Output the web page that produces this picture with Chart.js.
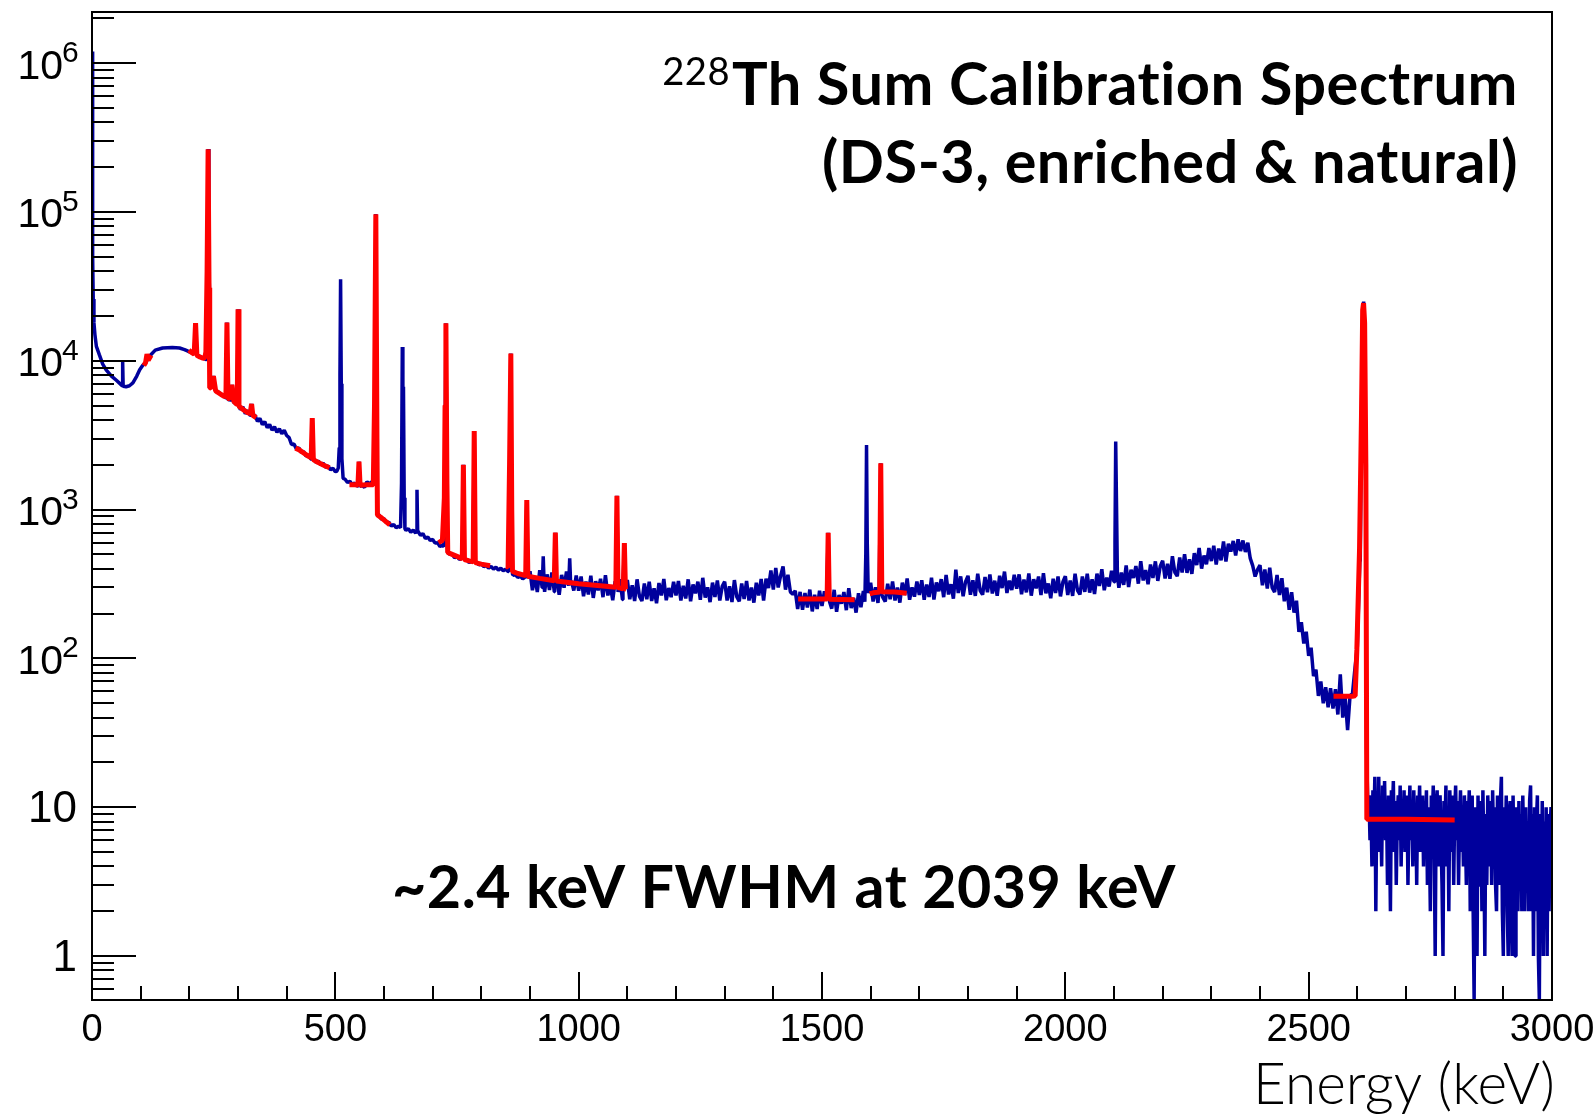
<!DOCTYPE html>
<html><head><meta charset="utf-8">
<style>html,body{margin:0;padding:0;background:#fff;}canvas{display:block;}</style>
<script src="https://cdn.jsdelivr.net/npm/chart.js@4.4.1/dist/chart.umd.min.js"></script>
</head><body>
<canvas id="c" width="1596" height="1117"></canvas>
<script>
// ---------------- DATA ----------------
// Blue measured spectrum, low-energy part (keV, counts)
const blueLowE = [0.5, 1, 1.6, 2.5, 4, 6, 9, 15, 22, 29, 40, 50, 58, 62, 63, 64, 70, 77, 84, 92, 98, 104, 108, 112.5, 116, 120, 130, 145, 165, 180, 190, 195];
const blueLowC = [1200000, 200000, 50000, 26000, 18000, 15000, 12500, 11000, 9500, 8700, 7900, 7400, 7000, 6800, 9900, 6750, 6700, 6800, 7100, 7900, 8700, 9300, 9600, 10000, 10400, 10900, 11800, 12200, 12300, 12200, 11900, 11700];

// Blue continuum, blocks of 20 bins spaced 5 keV, [block start keV, counts]
const contStep = 5;
const contBlocks = [
 [200, [11500,11350,11150,10950,10750,10550,10350,10200,6900,6700,6500,6300,6150,5950,5800,5650,5500,5450,5300,5150]],
 [300, [5150,4700,4900,4420,4640,4300,4300,4300,3920,4100,3730,3900,3560,3730,3420,3600,3310,3500,3230,3420]],
 [400, [3150,3050,2740,2760,2560,2600,2420,2460,2290,2330,2180,2220,2080,2120,2000,2050,1920,1970,1850,1900]],
 [500, [1800,1790,2500,1620,1600,1520,1550,1470,1510,1440,1430,1460,1410,1540,1490,1540,1490,950,920,860]],
 [600, [870,815,825,775,795,755,775,740,765,725,745,705,730,695,715,670,690,640,655,620]],
 [700, [630,595,600,565,575,550,530,500,505,475,485,462,472,450,462,440,452,432,445,425]],
 [800, [432,414,421,404,415,398,410,392,404,388,398,384,386,362,365,350,358,342,352,336]],
 [900, [385,287,356,279,391,300,280,367,288,378,280,340,268,364,299,384,275,332,286,361]],
 [1000,[285,355,262,328,269,360,255,330,287,343,258,362,265,309,246,330,265,340,249,310]],
 [1100,[336,250,310,243,340,261,243,319,250,328,243,296,235,321,265,342,246,297,258,327]],
 [1200,[265,331,245,308,253,340,242,314,274,328,248,348,256,300,239,323,259,334,245,305]],
 [1300,[328,245,305,239,336,259,242,319,251,331,245,299,237,322,265,342,245,343,297,390]],
 [1400,[290,405,300,360,415,290,365,280,270,285,215,280,212,275,220,290,207,268,215,285]],
 [1500,[225,282,208,262,216,289,206,267,233,279,211,296,218,255,203,274,221,284,208,260]],
 [1600,[322,241,301,236,333,257,241,317,250,329,245,299,237,323,267,344,248,300,260,329]],
 [1700,[267,335,248,314,259,348,249,324,283,341,258,364,269,315,252,395,275,356,262,328]],
 [1800,[359,268,335,263,371,286,268,353,278,367,273,333,264,359,297,383,275,333,288,365]],
 [1900,[294,367,270,339,278,372,264,341,296,355,267,374,274,319,254,343,275,355,261,326]],
 [2000,[357,267,334,263,371,287,269,355,280,371,277,340,271,371,307,398,287,349,304,388]],
 [2100,[317,399,298,377,312,421,302,395,347,418,318,450,334,392,315,428,347,449,332,416]],
 [2200,[454,344,432,343,486,379,357,476,378,502,376,463,370,510,424,553,401,491,430,552]],
 [2300,[451,572,428,547,456,610,448,590,523,616,492,632,527,620,519,599,470,420,355,395]],
 [2400,[423,310,396,295,407,299,279,364,267,346,242,299,212,278,203,244,151,175,126,151]],
 [2500,[104,118,76,84,56,70,50,64,47,63,46,62,42,78,40,55,33,56,58,85]],
 [2600,[120,450]]
];

// Blue peaks (keV, counts) replacing the continuum bins they span
const bluePeaks = [
 [[210,11100],[212.8,17900],[215.5,10900]],
 [[235.5,10250],[237,40000],[238.6,265000],[240.2,40000],[241.3,31000],[242.5,6900]],
 [[246.5,6650],[249.5,7900],[253,6350]],
 [[275.5,5650],[277.3,18100],[279,5550]],
 [[286,5450],[288.2,6900],[290.5,5300]],
 [[298.5,5050],[300.1,22200],[301.7,4950]],
 [[326,4380],[327.9,5130],[330,4300]],
 [[450.5,2220],[452.6,4120],[454.5,2170]],
 [[503,1810],[506,1900],[508,2600],[509.5,8000],[510.8,35300],[512.2,7000],[513.5,2200],[516,1620]],
 [[547,1450],[548.6,2100],[550.5,1430]],
 [[579,1490],[581,5000],[583.2,97000],[585,2000],[586.5,940]],
 [[634,757],[636,1500],[637.6,12400],[638.8,3000],[640,6700],[641.5,1200],[643,745]],
 [[666.5,712],[667.8,1360],[669.2,700]],
 [[723,565],[725,1500],[727.2,17900],[729,2000],[730.5,520]],
 [[761,465],[763.1,2000],[765,460]],
 [[783,445],[785.4,3380],[787.5,440]],
 [[856,392],[858,1500],[860.5,11200],[862,1200],[864,370]],
 [[891,346],[893.4,1160],[895.5,346]],
 [[925.5,330],[927.2,485],[929,320]],
 [[950.5,316],[952.1,700],[954,328]],
 [[979.5,308],[981.6,470],[983.5,320]],
 [[1076,300],[1078.6,1240],[1081,280]],
 [[1091,285],[1093.9,596],[1096,298]],
 [[1509.5,250],[1512.7,698],[1515.5,240]],
 [[1588,240],[1590,500],[1591.5,2720],[1593,600],[1595,275]],
 [[1617.5,300],[1620.7,2050],[1623,268]],
 [[2100,328],[2102,600],[2103.5,2870],[2105,1200],[2107,360]],
 [[2606,450],[2608.5,4200],[2611,22000],[2613,25000],[2615.5,15000],[2617.5,800],[2619,25]]
];

// Blue high-energy tail: 2 keV bins from 2620 keV
const tailStart = 2620, tailStep = 2;
const blueTail = [17,9,12,6,10,4,13,8,16,2,11,7,16,5,9,4,14,8,15,6,
 10,3,12,7,2,13,9,15,5,11,3,8,12,6,14,4,10,7,13,5,
 9,12,3,8,14,6,11,4,13,7,10,3,12,8,14,5,9,12,4,11,
 7,13,3,10,6,2,12,8,14,5,1,10,13,4,9,12,6,3,1,11,
 7,14,4,10,2,13,8,5,12,3,9,14,6,11,3,8,13,5,10,4,
 12,7,3,11,8,13,2,9,12,2,0,10,6,1,12,3,8,11,2,13,
 5,1,9,3,12,7,4,11,3,13,6,10,3,2,12,8,3,11,16,2,
 1,10,5,12,2,1,9,11,2,1,12,4,1,10,7,2,11,3,9,2,
 12,5,2,10,3,8,2,11,14,2,9,1,10,2,8,12,1,0,9,2,
 11,1,8,2,10,1,9,2,7,10,9];

// Red fit segments (keV, counts)
const fit111  = [[106.5,9300],[110,9700],[113,11100],[115.5,10100],[121.5,10900]];
const fit238  = [[199,11800],[205,11350],[210,11100],[212.8,17900],[215.5,10900],[222,10600],[228,10400],[232,10500],[234,11500],[236.5,40000],[238.6,264000],[240.5,30000],[241.4,31000],[242.3,6600],[245,6550],[249.5,7900],[254,6300],[258,6150],[265,5950],[270,5800],[275.2,5750],[277.3,18100],[279.5,5600],[283,5550],[287.5,6890],[291.5,5350],[296,5150],[298.5,5100],[300.1,22200],[302,4950],[310,4720],[320,4480],[325,4420],[327.9,5130],[330.5,4300],[337.5,4150]];
const fit453  = [[418,2590],[425,2530],[435,2400],[445,2280],[450.4,2230],[452.6,4120],[454.8,2170],[465,2070],[475,1995],[488,1910]];
const fit583  = [[529,1470],[540,1470],[546.5,1465],[548.6,2100],[550.8,1460],[565,1470],[578,1470],[580.5,5000],[583.2,96600],[585.5,3000],[586.5,920],[595,880],[612,790]];
const fit727  = [[712,600],[720,620],[724,1200],[725.5,5000],[727.2,17900],[729.3,1500],[731,515],[740,500],[750,485],[760.9,468],[763.1,2000],[765.3,462],[775,452],[783.2,446],[785.4,3380],[787.6,440],[800,430],[818,420]];
const fit860  = [[851,415],[855,410],[858,2000],[860.6,11200],[862.5,1000],[864,384],[875,372],[891.2,360],[893.4,1160],[895.6,357],[920,345],[949.9,333],[952.1,700],[954.3,331],[1000,318],[1050,307],[1076.4,301],[1078.6,1240],[1080.8,299],[1091.7,294],[1093.9,596],[1096.1,292],[1098,290]];
const fit1512 = [[1451,251],[1500,251],[1510.5,251],[1512.7,698],[1514.9,250],[1567,248]];
const fit1620 = [[1598,272],[1605,276],[1618.5,279],[1620.7,2050],[1622.9,280],[1650,279],[1674,274]];
const fit2614 = [[2551,55.6],[2590,55.6],[2595.5,56],[2599,114],[2604.5,537],[2608.5,4220],[2611,22000],[2612.8,24400],[2615,18000],[2617.5,2000],[2619.5,8.3],[2700,8.3],[2800,8.2]];
const fitSegments = [fit111, fit238, fit453, fit583, fit727, fit860, fit1512, fit1620, fit2614];

// Axis ticks and labels
const xMin = 0, xMax = 3000, yMin = 0.506, yMax = 2.21e6;
const xMajorTicks = [0, 500, 1000, 1500, 2000, 2500, 3000];
const xMajorLabels = ['0', '500', '1000', '1500', '2000', '2500', '3000'];
const yMajorTicks = [1, 10, 100, 1000, 10000, 100000, 1000000];
const yLabelBase = ['1', '10', '10', '10', '10', '10', '10'];
const yLabelExp  = ['', '', '2', '3', '4', '5', '6'];

// ---------------- build blue series ----------------
const bluePts = [];
blueLowE.forEach((e, i) => bluePts.push({x: e, y: blueLowC[i]}));
const ranges = bluePeaks.map(g => [g[0][0], g[g.length - 1][0]]);
contBlocks.forEach(([start, vals]) => vals.forEach((c, i) => {
  const e = start + i * contStep;
  if (!ranges.some(r => e >= r[0] && e <= r[1])) bluePts.push({x: e, y: c});
}));
bluePeaks.forEach(g => g.forEach(p => bluePts.push({x: p[0], y: p[1]})));
blueTail.forEach((c, i) => bluePts.push({x: tailStart + i * tailStep, y: c}));
bluePts.sort((a, b) => a.x - b.x);

// ---------------- ROOT-like axes and texts ----------------
function fitSize(ctx, text, weight, family, target, base) {
  ctx.font = weight + ' ' + base + 'px ' + family;
  return base * target / ctx.measureText(text).width;
}
const LAB = '"Liberation Sans", Arial, sans-serif';
const rootAxes = {
  id: 'rootAxes',
  afterDatasetsDraw(chart) {
    const {ctx, chartArea: a, scales: {x, y}} = chart;
    ctx.save();
    ctx.strokeStyle = '#000';
    ctx.lineWidth = 2;
    ctx.beginPath();
    for (let v = xMin; v <= xMax; v += 100) {
      const px = Math.round(x.getPixelForValue(v));
      const len = (v % 500 === 0) ? 28 : 14;
      ctx.moveTo(px, a.bottom); ctx.lineTo(px, a.bottom - len);
    }
    for (let k = -1; k <= 6; k++) {
      for (let m = 1; m <= 9; m++) {
        const v = m * Math.pow(10, k);
        if (v < yMin || v > yMax) continue;
        const py = Math.round(y.getPixelForValue(v));
        const len = (m === 1) ? 44 : 22;
        ctx.moveTo(a.left, py); ctx.lineTo(a.left + len, py);
      }
    }
    ctx.stroke();
    ctx.strokeRect(a.left, a.top, a.right - a.left, a.bottom - a.top);

    ctx.fillStyle = '#000';
    ctx.font = '38px ' + LAB;
    ctx.textAlign = 'center';
    ctx.textBaseline = 'alphabetic';
    xMajorTicks.forEach((v, i) => ctx.fillText(xMajorLabels[i], x.getPixelForValue(v), 1041));
    yMajorTicks.forEach((v, i) => {
      const py = y.getPixelForValue(v);
      ctx.textBaseline = 'middle';
      ctx.textAlign = 'right';
      if (yLabelExp[i] === '') {
        ctx.font = '44px ' + LAB;
        ctx.fillText(yLabelBase[i], 77, py + 3);
      } else {
        ctx.font = '41px ' + LAB;
        ctx.fillText(yLabelBase[i], 63, py + 4);
        ctx.font = '30px ' + LAB;
        ctx.textAlign = 'left';
        ctx.textBaseline = 'alphabetic';
        ctx.fillText(yLabelExp[i], 62, py - 1);
      }
    });

    const fam = 'Lato, "Open Sans", sans-serif';
    ctx.textRendering = 'optimizeSpeed';
    ctx.letterSpacing = '0.5px';
    ctx.textBaseline = 'alphabetic';
    ctx.textAlign = 'right';
    const t1 = 'Th Sum Calibration Spectrum';
    let s = fitSize(ctx, t1, 700, fam, 786, 60);
    ctx.font = '700 ' + s + 'px ' + fam;
    ctx.fillText(t1, 1518, 105);
    const w1 = ctx.measureText(t1).width;
    s = fitSize(ctx, '228', 400, fam, 68, 36);
    ctx.font = '400 ' + s + 'px ' + fam;
    ctx.fillText('228', 1518 - w1 - 2, 85);
    const t2 = '(DS-3, enriched & natural)';
    s = fitSize(ctx, t2, 700, fam, 696, 60);
    ctx.font = '700 ' + s + 'px ' + fam;
    ctx.fillText(t2, 1518, 183);
    const t3 = '~2.4 keV FWHM at 2039 keV';
    s = fitSize(ctx, t3, 700, fam, 784, 60);
    ctx.font = '700 ' + s + 'px ' + fam;
    ctx.textAlign = 'center';
    ctx.fillText(t3, 784, 908);
    ctx.letterSpacing = '0px';
    const t4 = 'Energy (keV)';
    s = fitSize(ctx, t4, 300, fam, 302, 49);
    ctx.font = '300 ' + s + 'px ' + fam;
    ctx.textAlign = 'right';
    ctx.fillText(t4, 1555, 1104);
    ctx.restore();
  }
};

const datasets = fitSegments.map(seg => ({
  data: seg.map(p => ({x: p[0], y: p[1]})),
  borderColor: '#ff0000', borderWidth: 5, pointRadius: 0, fill: false,
  tension: 0, borderJoinStyle: 'bevel', order: 0
}));
datasets.push({
  data: bluePts, borderColor: '#00009c', borderWidth: 3.5, pointRadius: 0,
  fill: false, tension: 0, borderJoinStyle: 'bevel', order: 1
});

new Chart(document.getElementById('c'), {
  type: 'line',
  data: {datasets},
  options: {
    responsive: false, animation: false, parsing: false, normalized: true,
    layout: {padding: {left: 92, right: 44, top: 12, bottom: 117}},
    plugins: {legend: {display: false}, tooltip: {enabled: false}, title: {display: false}},
    scales: {
      x: {type: 'linear', min: xMin, max: xMax, display: false},
      y: {type: 'logarithmic', min: yMin, max: yMax, display: false}
    }
  },
  plugins: [rootAxes]
});
</script>
</body></html>
